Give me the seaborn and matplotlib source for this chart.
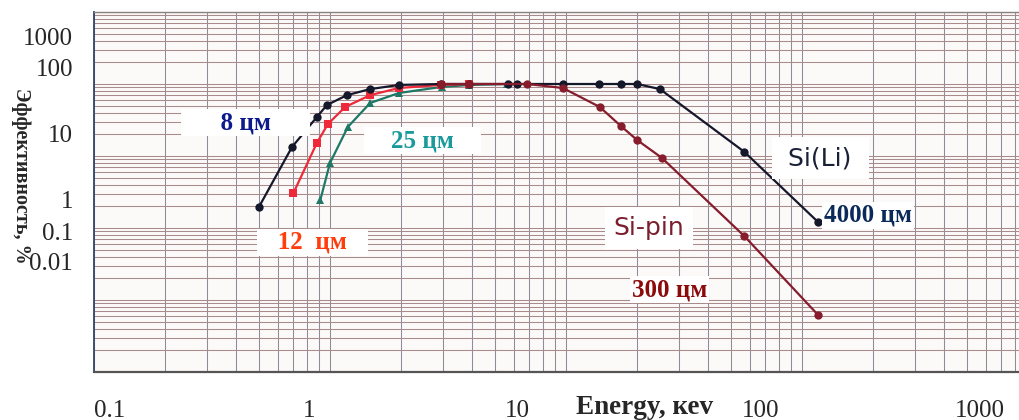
import matplotlib
matplotlib.use("Agg")
import matplotlib.pyplot as plt
import numpy as np
import seaborn as sns
from matplotlib.ticker import LogLocator, NullFormatter

# energy (keV) / efficiency (%)
sili_energy = [0.5, 0.69, 0.88, 0.97, 1.18, 1.48, 1.96, 2.95, 3.88, 5.7, 6.2,
               9.7, 13.8, 17.1, 20.0, 25.0, 57.0, 117.0]
sili_eff = [1.96, 13.3, 34.8, 51, 70, 85, 97, 100, 100, 100, 100,
            100, 100, 100, 100, 85, 11.4, 1.21]

pin12_energy = [0.70, 0.88, 0.98, 1.16, 1.48, 1.96, 2.95, 3.88]
pin12_eff = [3.06, 15.2, 27.8, 48, 70, 88, 97, 100]

pin25_energy = [0.91, 1.0, 1.19, 1.48, 1.96, 2.97, 3.9, 5.6]
pin25_eff = [2.45, 8.0, 25.3, 54.5, 75, 91, 97, 100]

pin300_energy = [2.95, 3.88, 6.84, 9.7, 13.9, 17.1, 20.0, 25.5, 57.0, 117.0]
pin300_eff = [100, 100, 100, 88, 48, 26, 16.7, 9.4, 0.77, 0.062]

# tick labels as printed on the scan (they sit off the paper's decades)
xtick_labels = ["0.1", "1", "10", "100", "1000"]
ytick_labels = ["1000", "100", "10", "1", "0.1", "0.01"]

XTICK_AT = [0.117, 0.815, 6.2, 67, 568]
YTICK_AT = [450, 167, 20.8, 2.45, 0.88, 0.34]

sns.set_style("white")
plt.rcParams["font.family"] = ["Liberation Serif", "DejaVu Serif"]

fig = plt.figure(figsize=(10.19, 4.2), dpi=100)
ax = fig.add_axes([94 / 1019, 48 / 420, 925 / 1019, 360 / 420])
ax.set_facecolor("#fcf9f9")

series = [
    (pin25_energy, pin25_eff, "#1e7866", "^"),
    (pin12_energy, pin12_eff, "#ee2a3a", "s"),
    (sili_energy, sili_eff, "#15182b", "o"),
    (pin300_energy, pin300_eff, "#861c2c", "o"),
]
for xs, ys, col, mk in series:
    sns.lineplot(x=xs, y=ys, ax=ax, color=col, marker=mk, markersize=6,
                 markeredgewidth=0, linewidth=1.6, sort=False, estimator=None,
                 zorder=3)

ax.set(xscale="log", yscale="log", xlim=(0.1, 831), ylim=(0.01, 1000))

# graph-paper grid
ax.xaxis.set_minor_locator(LogLocator(base=10, subs=np.arange(1, 10), numticks=60))
ax.yaxis.set_minor_locator(LogLocator(base=10, subs=np.arange(1, 10), numticks=60))
ax.xaxis.set_minor_formatter(NullFormatter())
ax.yaxis.set_minor_formatter(NullFormatter())
ax.grid(False)
ax.grid(which="minor", axis="x", color="#8e8c95", linewidth=0.75)
ax.grid(which="minor", axis="y", color="#a88c8c", linewidth=0.75)
ax.set_axisbelow(True)

ax.set_xticks(XTICK_AT, labels=xtick_labels)
ax.set_yticks(YTICK_AT, labels=ytick_labels)
ax.tick_params(axis="both", which="both", length=0, labelsize=18)
ax.tick_params(axis="x", pad=20)
ax.tick_params(axis="y", pad=15)

for side in ("left", "bottom", "top"):
    ax.spines[side].set_visible(True)
ax.spines["right"].set_visible(False)
ax.spines["left"].set_color("#34456a")
ax.spines["left"].set_linewidth(1.3)
ax.spines["bottom"].set_color("#555555")
ax.spines["bottom"].set_linewidth(1.6)
ax.spines["top"].set_color("#8a8080")
ax.spines["top"].set_linewidth(1.0)

white = dict(boxstyle="square,pad=0.08", facecolor="white", edgecolor="none")
serif_bold = dict(fontweight="bold", fontsize=18, ha="center", va="center",
                  transform=ax.transAxes, zorder=6)
ax.text(0.164, 0.692, "      8 цм      ", color="#0d1a8c", bbox=white, **serif_bold)
ax.text(0.236, 0.361, "   12  цм   ", color="#ff3d0d", bbox=white, **serif_bold)
ax.text(0.355, 0.642, "    25 цм    ", color="#1a9a9a", bbox=white, **serif_bold)
ax.text(0.837, 0.436, "4000 цм", color="#0a2a5a", bbox=white, **serif_bold)
ax.text(0.622, 0.228, "300 цм", color="#8b0a0a", bbox=white, **serif_bold)

sans = dict(fontsize=18, ha="center", va="center", family="DejaVu Sans",
            transform=ax.transAxes, zorder=6,
            bbox=dict(boxstyle="square,pad=0.35", facecolor="white", edgecolor="none"))
ax.text(0.785, 0.594, " Si(Li) ", color="#1a2035", **sans)
ax.text(0.600, 0.400, "Si-pin", color="#7a1f2e", **sans)

fig.text(645 / 1019, 1 - 408 / 420, "Energy, кеv", fontsize=19.5, fontweight="bold",
         ha="center", va="center")
fig.text(21 / 1019, 1 - 176 / 420, "Эффективность, %", fontsize=14.5,
         fontweight="bold", rotation=-90, ha="center", va="center")

fig.savefig("out.png", dpi=100, facecolor="white")
plt.close(fig)
